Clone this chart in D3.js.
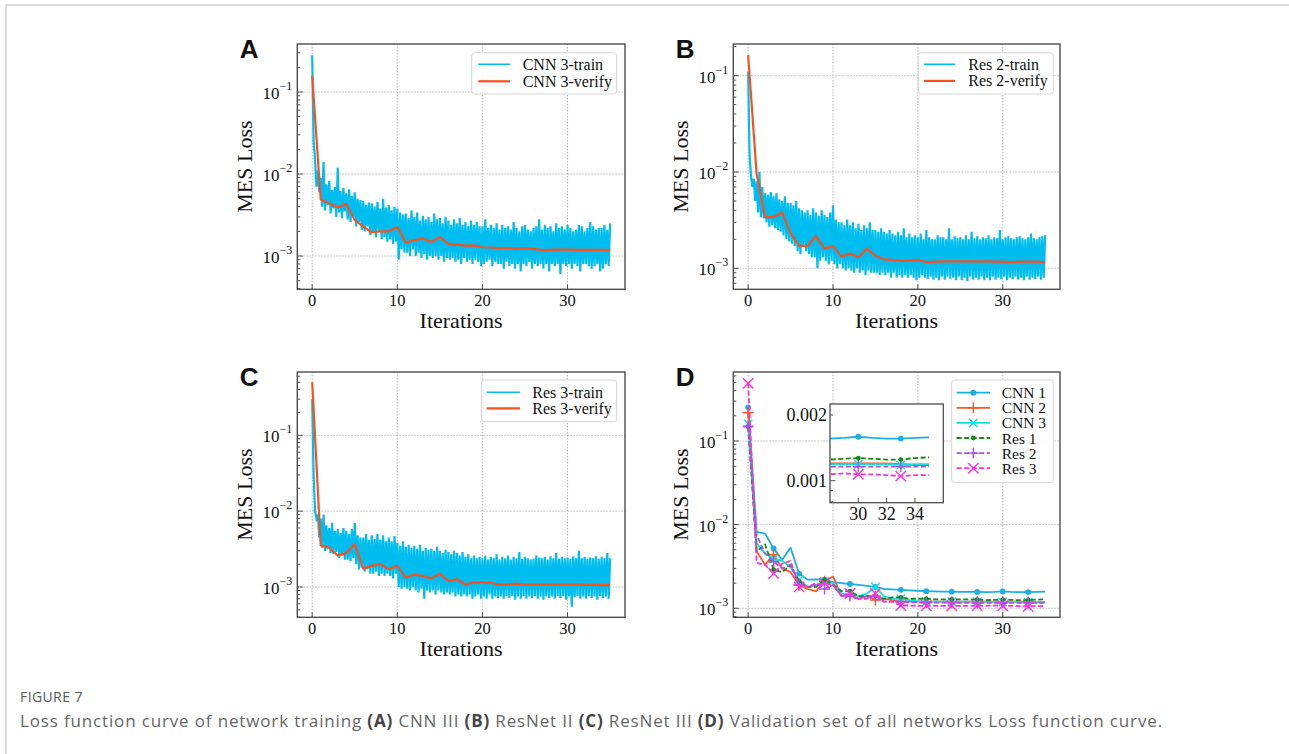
<!DOCTYPE html>
<html>
<head>
<meta charset="utf-8">
<script src="https://cdn.jsdelivr.net/npm/d3@7"></script>
<style>
    body { margin: 0; background: #fff; }
    svg text { font-family: "Liberation Serif", "Times New Roman", serif; }
</style>
</head>
<body>
<svg id="fig" width="1289" height="754"></svg>
<script>
"use strict";

// ---------------- data ----------------
const epochs = d3.range(0, 36);
const xTicks = [0, 10, 20, 30];
const insetXTicks = [30, 32, 34];
const trainStepsPerEpoch = 6;
const trainUnit = 1e-5; // training arrays are written in units of 1e-5

// (A) CNN 3 training loss, 6 samples per epoch
const cnn3Train = [
    28000, 2500, 1500, 700, 1100, 600,
    900, 400, 1400, 360, 750, 420,
    820, 330, 640, 380, 700, 300,
    1200, 340, 620, 290, 680, 350,
    580, 280, 650, 260, 540, 300,
    600, 230, 500, 260, 480, 210,
    470, 200, 420, 230, 450, 180,
    440, 190, 400, 170, 460, 200,
    380, 160, 500, 170, 390, 150,
    420, 160, 360, 140, 400, 150,
    380, 90, 340, 120, 320, 110,
    330, 110, 290, 100, 360, 120,
    300, 100, 340, 110, 270, 95,
    310, 105, 280, 90, 300, 100,
    260, 95, 330, 100, 280, 90,
    290, 100, 250, 85, 300, 95,
    270, 90, 240, 95, 280, 85,
    250, 90, 290, 80, 240, 95,
    260, 85, 230, 90, 270, 80,
    240, 90, 260, 85, 230, 75,
    230, 80, 280, 85, 220, 90,
    240, 75, 220, 85, 250, 80,
    210, 80, 240, 70, 220, 85,
    230, 75, 210, 80, 260, 70,
    220, 80, 200, 65, 230, 80,
    240, 75, 210, 85, 200, 70,
    220, 80, 230, 75, 280, 80,
    210, 70, 240, 80, 220, 65,
    230, 80, 200, 75, 250, 80,
    220, 60, 230, 80, 210, 75,
    240, 80, 220, 70, 200, 80,
    210, 75, 240, 65, 230, 80,
    200, 80, 220, 75, 260, 70,
    230, 75, 210, 80, 220, 65,
    220, 70, 240, 80, 210, 75,
    250
];
const cnn3Verify = [0.157, 0.0049, 0.0044, 0.0039, 0.0043, 0.00275, 0.00228, 0.00195, 0.002, 0.002,
    0.00224, 0.00147, 0.00155, 0.00164, 0.00148, 0.0017, 0.00141, 0.00138, 0.00134, 0.00135,
    0.00128, 0.00127, 0.00125, 0.00126, 0.00122, 0.00125, 0.00122, 0.00118, 0.00119, 0.0012,
    0.0012, 0.00119, 0.00119, 0.00119, 0.00119, 0.00118];

// (B) Res 2
const res2Train = [
    11000, 1500, 900, 700, 850, 500,
    800, 380, 1000, 340, 700, 330,
    600, 300, 580, 270, 620, 280,
    560, 260, 600, 250, 520, 240,
    500, 220, 560, 200, 480, 190,
    480, 180, 450, 170, 500, 150,
    420, 140, 400, 170, 380, 150,
    400, 140, 360, 130, 420, 130,
    380, 100, 350, 120, 400, 130,
    360, 120, 340, 110, 380, 120,
    450, 110, 320, 100, 300, 110,
    300, 100, 280, 95, 320, 100,
    280, 95, 300, 90, 260, 100,
    290, 90, 250, 95, 280, 85,
    260, 95, 300, 90, 250, 90,
    250, 90, 240, 85, 260, 90,
    240, 85, 230, 90, 250, 80,
    230, 90, 220, 80, 240, 85,
    220, 80, 260, 85, 210, 80,
    230, 85, 210, 80, 220, 75,
    210, 80, 230, 85, 200, 80,
    250, 78, 210, 82, 200, 76,
    200, 80, 220, 75, 210, 82,
    210, 76, 200, 82, 260, 78,
    200, 80, 215, 75, 205, 82,
    210, 75, 200, 80, 220, 74,
    200, 82, 240, 76, 205, 80,
    215, 76, 200, 82, 210, 75,
    205, 80, 220, 75, 200, 82,
    210, 76, 205, 80, 250, 77,
    200, 82, 210, 75, 215, 80,
    205, 77, 200, 82, 210, 76,
    215, 80, 205, 75, 200, 82,
    210, 76, 230, 80, 205, 77,
    200, 82, 210, 76, 215, 80,
    220
];
const res2Verify = [0.164, 0.0095, 0.0034, 0.0034, 0.0038, 0.0023, 0.00172, 0.0017, 0.00215, 0.0016,
    0.0017, 0.00132, 0.00142, 0.0013, 0.0016, 0.00135, 0.00124, 0.00122, 0.00119, 0.0012,
    0.00122, 0.00116, 0.00117, 0.00118, 0.00118, 0.00118, 0.00118, 0.00118, 0.00118, 0.00117,
    0.00117, 0.00116, 0.00117, 0.00117, 0.00117, 0.00115];

// (C) Res 3
const res3Train = [
    30000, 3000, 1000, 800, 900, 450,
    800, 330, 900, 300, 650, 320,
    600, 280, 700, 270, 550, 290,
    580, 240, 520, 260, 600, 230,
    550, 230, 500, 220, 580, 240,
    700, 200, 480, 170, 450, 180,
    450, 160, 500, 170, 420, 150,
    480, 150, 430, 160, 500, 140,
    420, 150, 480, 140, 400, 150,
    450, 140, 400, 130, 470, 150,
    380, 100, 350, 95, 400, 100,
    340, 95, 360, 90, 330, 100,
    350, 90, 320, 85, 360, 95,
    300, 70, 330, 90, 310, 85,
    320, 90, 300, 80, 340, 90,
    300, 85, 280, 80, 310, 85,
    290, 80, 270, 85, 300, 75,
    280, 80, 260, 75, 290, 80,
    250, 75, 270, 80, 240, 70,
    260, 75, 240, 80, 250, 70,
    240, 75, 260, 70, 230, 80,
    250, 70, 240, 75, 270, 72,
    230, 75, 250, 70, 240, 76,
    260, 72, 230, 76, 250, 68,
    240, 75, 290, 70, 235, 76,
    250, 70, 240, 75, 230, 72,
    235, 76, 260, 70, 245, 75,
    240, 68, 250, 75, 230, 72,
    255, 75, 240, 70, 280, 76,
    235, 72, 250, 76, 240, 68,
    245, 75, 235, 55, 255, 74,
    240, 76, 300, 70, 240, 75,
    250, 70, 235, 76, 245, 72,
    240, 75, 255, 68, 235, 76,
    250, 72, 240, 75, 280, 70,
    240
];
const res3Verify = [0.5, 0.00356, 0.0033, 0.0026, 0.0028, 0.0037, 0.00175, 0.0019, 0.002, 0.00172,
    0.0019, 0.00133, 0.00146, 0.0014, 0.0013, 0.0015, 0.0012, 0.00127, 0.00108, 0.00115,
    0.00115, 0.00113, 0.00108, 0.00108, 0.00111, 0.00108, 0.00108, 0.00108, 0.00108, 0.00108,
    0.00108, 0.00108, 0.00107, 0.00107, 0.00106, 0.00106];

// (D) validation loss of all networks
const dNames = ['CNN 1', 'CNN 2', 'CNN 3', 'Res 1', 'Res 2', 'Res 3'];
const cnn1Valid = [0.252, 0.0082, 0.0078, 0.0052, 0.0038, 0.0053, 0.0026, 0.0022, 0.00222, 0.0022,
    0.00205, 0.002, 0.00195, 0.0019, 0.00185, 0.0018, 0.0017, 0.00168, 0.00166, 0.00164,
    0.00162, 0.0016, 0.00159, 0.00158, 0.00158, 0.00157, 0.00157, 0.00157, 0.00156, 0.00157,
    0.00159, 0.00157, 0.00156, 0.00156, 0.00157, 0.00158];
const cnn2Valid = [0.218, 0.0048, 0.0033, 0.0044, 0.003, 0.0027, 0.0019, 0.0017, 0.0016, 0.0021,
    0.0024, 0.0014, 0.00145, 0.0013, 0.0014, 0.00125, 0.0013, 0.00125, 0.0012, 0.0012,
    0.0012, 0.0012, 0.0012, 0.0012, 0.0012, 0.0012, 0.0012, 0.0012, 0.0012, 0.0012,
    0.0012, 0.0012, 0.0012, 0.00119, 0.00118, 0.00118];
const cnn3Valid = [0.16, 0.006, 0.0045, 0.0039, 0.0037, 0.0031, 0.0022, 0.0018, 0.0019, 0.0021,
    0.002, 0.0015, 0.0015, 0.0014, 0.0015, 0.0018, 0.0014, 0.0013, 0.0013, 0.00125,
    0.00122, 0.0012, 0.0012, 0.0012, 0.0012, 0.0012, 0.0012, 0.0012, 0.00119, 0.00119,
    0.00119, 0.00119, 0.00119, 0.00118, 0.00119, 0.00119];
const res1Valid = [0.148, 0.0048, 0.0058, 0.0029, 0.0027, 0.0033, 0.0021, 0.0018, 0.0018, 0.0022,
    0.0019, 0.0016, 0.0016, 0.0014, 0.0014, 0.0014, 0.0013, 0.00135, 0.00135, 0.0013,
    0.0013, 0.0013, 0.00128, 0.00128, 0.00128, 0.00128, 0.00128, 0.00127, 0.00125, 0.00126,
    0.00127, 0.00126, 0.00125, 0.00125, 0.00127, 0.00128];
const res2Valid = [0.15, 0.0075, 0.0045, 0.0036, 0.003, 0.0033, 0.0019, 0.0018, 0.002, 0.0017,
    0.0019, 0.0014, 0.0014, 0.0013, 0.0014, 0.0014, 0.0012, 0.0012, 0.0012, 0.00118,
    0.00118, 0.00117, 0.00117, 0.00117, 0.00116, 0.00116, 0.00116, 0.00116, 0.00116, 0.00116,
    0.00116, 0.00116, 0.00116, 0.00116, 0.00116, 0.00116];
const res3Valid = [0.489, 0.0035, 0.0033, 0.0026, 0.0034, 0.0037, 0.0018, 0.0018, 0.0019, 0.002,
    0.0019, 0.0014, 0.0015, 0.0013, 0.0013, 0.0015, 0.0012, 0.0012, 0.00108, 0.00108,
    0.00107, 0.00107, 0.00107, 0.00107, 0.00107, 0.00107, 0.00107, 0.00107, 0.00107, 0.00108,
    0.00107, 0.00107, 0.00106, 0.00105, 0.00106, 0.00106];

// ---------------- layout / styles ----------------
const TRAIN_COLOR = '#00bdf0';
const VERIFY_COLOR = '#f9501e';
const FRAME_COLOR = '#4d4d4d';

const panels = [
    { letter: 'A', left: 297.3, top: 44, right: 625, bottom: 289.3, yDomain: [0.000393, 0.385],
      train: cnn3Train, verify: cnn3Verify, names: ['CNN 3-train', 'CNN 3-verify'],
      legend: { x: 471.7, y: 52.7, w: 145, h: 41.3, rows: [64.3, 81.3], h1: 478.3, h2: 510, tx: 522.7 } },
    { letter: 'B', left: 733.3, top: 44, right: 1060, bottom: 289.3, yDomain: [0.000605, 0.2134],
      train: res2Train, verify: res2Verify, names: ['Res 2-train', 'Res 2-verify'],
      legend: { x: 918.3, y: 52.7, w: 135, h: 41.3, rows: [64.3, 80.9], h1: 924, h2: 955, tx: 968.3 } },
    { letter: 'C', left: 297.3, top: 372, right: 625, bottom: 617.3, yDomain: [0.000399, 0.6833],
      train: res3Train, verify: res3Verify, names: ['Res 3-train', 'Res 3-verify'],
      legend: { x: 481.7, y: 380, w: 135, h: 41.7, rows: [392.3, 408.3], h1: 486.7, h2: 520, tx: 532.3 } }
];

const panelD = { letter: 'D', left: 733.3, top: 372, right: 1060, bottom: 617.3, yDomain: [0.00078, 0.668] };

const dSeries = [
    { name: dNames[0], values: cnn1Valid, color: '#17afe6', dash: null, marker: 'o', size: 2.9 },
    { name: dNames[1], values: cnn2Valid, color: '#ff5722', dash: null, marker: '+', size: 5.5 },
    { name: dNames[2], values: cnn3Valid, color: '#12e0e0', dash: null, marker: 'x', size: 4.2 },
    { name: dNames[3], values: res1Valid, color: '#168a16', dash: '5,2.5', marker: '.', size: 2.4 },
    { name: dNames[4], values: res2Valid, color: '#a552f0', dash: '5,2.5', marker: '+', size: 5.5 },
    { name: dNames[5], values: res3Valid, color: '#ff30dc', dash: '5,2.5', marker: 'x', size: 5.2 }
];

const svg = d3.select('#fig');

/**
 * Builds a log-scaled axes box with grid, ticks and labels
 *
 * @param {d3.Selection} root
 * @param {Object} cfg panel config
 *
 * @returns {Object} {plot, over, x, y}
 */
const makeAxes = (root, cfg) => {
    const x = d3.scaleLinear().domain([-1.75, 36.75]).range([cfg.left, cfg.right]);
    const y = d3.scaleLog().domain(cfg.yDomain).range([cfg.bottom, cfg.top]);
    const g = root.append('g');
    const clipId = 'clip' + cfg.letter;
    g.append('clipPath').attr('id', clipId)
        .append('rect')
        .attr('x', cfg.left).attr('y', cfg.top)
        .attr('width', cfg.right - cfg.left).attr('height', cfg.bottom - cfg.top);

    const decades = [-3, -2, -1].filter(e => Math.pow(10, e) >= cfg.yDomain[0] && Math.pow(10, e) <= cfg.yDomain[1]);

    // Grid
    const grid = g.append('g')
        .attr('stroke', '#a8a8a8')
        .attr('stroke-width', 0.8)
        .attr('stroke-dasharray', '1.5,1.5');
    xTicks.forEach(t => grid.append('line')
        .attr('x1', x(t)).attr('x2', x(t)).attr('y1', cfg.top).attr('y2', cfg.bottom));
    decades.forEach(e => grid.append('line')
        .attr('x1', cfg.left).attr('x2', cfg.right).attr('y1', y(Math.pow(10, e))).attr('y2', y(Math.pow(10, e))));

    const plot = g.append('g').attr('clip-path', `url(#${clipId})`);
    const over = g.append('g');

    // Ticks (inward)
    const ticks = over.append('g').attr('stroke', FRAME_COLOR).attr('stroke-width', 1);
    xTicks.forEach(t => ticks.append('line')
        .attr('x1', x(t)).attr('x2', x(t)).attr('y1', cfg.bottom).attr('y2', cfg.bottom - 5));
    for (let e = -4; e <= 0; e++) {
        for (let k = 1; k <= 9; k++) {
            const v = k * Math.pow(10, e);
            if (v < cfg.yDomain[0] || v > cfg.yDomain[1]) continue;
            ticks.append('line')
                .attr('x1', cfg.left).attr('x2', cfg.left + (k === 1 ? 5.5 : 3))
                .attr('y1', y(v)).attr('y2', y(v));
        }
    }

    // Frame
    over.append('rect')
        .attr('x', cfg.left).attr('y', cfg.top)
        .attr('width', cfg.right - cfg.left).attr('height', cfg.bottom - cfg.top)
        .attr('fill', 'none').attr('stroke', FRAME_COLOR).attr('stroke-width', 1.4);

    // Tick labels
    xTicks.forEach(t => g.append('text')
        .attr('x', x(t)).attr('y', cfg.bottom + 17)
        .attr('text-anchor', 'middle')
        .style('font-size', '16.5px')
        .attr('fill', '#111')
        .text(t));
    decades.forEach(e => {
        const t = g.append('text')
            .attr('x', cfg.left - 5).attr('y', y(Math.pow(10, e)) + 7)
            .attr('text-anchor', 'end')
            .attr('fill', '#111')
            .style('font-size', '17px');
        t.append('tspan').text('10');
        t.append('tspan').attr('dy', -9).style('font-size', '12px').text('\u2212' + Math.abs(e));
    });

    // Axis titles
    g.append('text')
        .attr('transform', `translate(${cfg.left - 45.5},${(cfg.top + cfg.bottom) / 2}) rotate(-90)`)
        .attr('text-anchor', 'middle')
        .attr('fill', '#111')
        .style('font-size', '22px')
        .text('MES Loss');
    g.append('text')
        .attr('x', (cfg.left + cfg.right) / 2).attr('y', cfg.bottom + 39)
        .attr('text-anchor', 'middle')
        .attr('fill', '#111')
        .style('font-size', '22px')
        .text('Iterations');

    // Panel letter
    root.append('text')
        .attr('x', cfg.left - 57.5).attr('y', cfg.top + 14)
        .style('font-family', '"Liberation Sans", Arial, sans-serif')
        .style('font-weight', 'bold')
        .style('font-size', '26px')
        .attr('fill', '#111')
        .text(cfg.letter);

    return { plot, over, x, y };
};

/**
 * Draws a marker glyph
 */
const drawMarker = (g, type, cx, cy, size, color) => {
    if (type === 'o' || type === '.') {
        g.append('circle').attr('cx', cx).attr('cy', cy).attr('r', size).attr('fill', color);
    } else if (type === '+') {
        g.append('path')
            .attr('d', `M${cx - size},${cy}H${cx + size}M${cx},${cy - size}V${cy + size}`)
            .attr('stroke', color).attr('stroke-width', 1.4).attr('fill', 'none');
    } else {
        g.append('path')
            .attr('d', `M${cx - size},${cy - size}L${cx + size},${cy + size}M${cx - size},${cy + size}L${cx + size},${cy - size}`)
            .attr('stroke', color).attr('stroke-width', 1.4).attr('fill', 'none');
    }
};

/**
 * Draws a legend box
 */
const drawLegendBox = (lg) => {
    svg.append('rect')
        .attr('x', lg.x).attr('y', lg.y).attr('width', lg.w).attr('height', lg.h)
        .attr('rx', 3)
        .attr('fill', '#fff').attr('fill-opacity', 0.85)
        .attr('stroke', '#d5d5d5').attr('stroke-width', 1);
};

// ---------------- panels A, B, C ----------------
panels.forEach(cfg => {
    const ax = makeAxes(svg, cfg);
    const line = d3.line().x(d => ax.x(d[0])).y(d => ax.y(d[1]));
    const trainPts = cfg.train.map((v, i) => [i / trainStepsPerEpoch, v * trainUnit]);
    const verifyPts = cfg.verify.map((v, i) => [epochs[i], v]);

    ax.plot.append('path')
        .attr('d', line(trainPts))
        .attr('fill', 'none').attr('stroke', TRAIN_COLOR).attr('stroke-width', 2.2)
        .attr('stroke-linejoin', 'miter');
    ax.plot.append('path')
        .attr('d', line(verifyPts))
        .attr('fill', 'none').attr('stroke', VERIFY_COLOR).attr('stroke-width', 2.2)
        .attr('stroke-linejoin', 'round');

    const lg = cfg.legend;
    drawLegendBox(lg);
    [TRAIN_COLOR, VERIFY_COLOR].forEach((c, i) => {
        svg.append('line')
            .attr('x1', lg.h1).attr('x2', lg.h2).attr('y1', lg.rows[i]).attr('y2', lg.rows[i])
            .attr('stroke', c).attr('stroke-width', i === 0 ? 1.6 : 2.2);
        svg.append('text')
            .attr('x', lg.tx).attr('y', lg.rows[i] + 5.5)
            .attr('fill', '#111')
            .style('font-size', '16px')
            .text(cfg.names[i]);
    });
});

// ---------------- panel D ----------------
const axD = makeAxes(svg, panelD);
const lineD = d3.line().x(d => axD.x(d[0])).y(d => axD.y(d[1]));

/**
 * Draws the six validation series into a group with given scales
 */
const drawSeries = (g, xs, ys, line, xMin) => {
    dSeries.forEach(s => {
        const pts = s.values.map((v, i) => [epochs[i], v]).filter(p => p[0] >= xMin);
        g.append('path')
            .attr('d', line(pts))
            .attr('fill', 'none').attr('stroke', s.color).attr('stroke-width', 1.8)
            .attr('stroke-dasharray', s.dash)
            .attr('stroke-linejoin', 'round');
        pts.filter(p => p[0] % 3 === 0)
            .forEach(p => drawMarker(g, s.marker, xs(p[0]), ys(p[1]), s.size, s.color));
    });
};
drawSeries(axD.plot, axD.x, axD.y, lineD, 0);

// Inset
const inset = { left: 830, top: 404, right: 943.3, bottom: 502.7, xDomain: [28, 36], yDomain: [0.000793, 0.002246] };
const ix = d3.scaleLinear().domain(inset.xDomain).range([inset.left, inset.right]);
const iy = d3.scaleLog().domain(inset.yDomain).range([inset.bottom, inset.top]);
const insetG = svg.append('g');
insetG.append('rect')
    .attr('x', inset.left).attr('y', inset.top)
    .attr('width', inset.right - inset.left).attr('height', inset.bottom - inset.top)
    .attr('fill', '#fff');
insetG.append('clipPath').attr('id', 'clipInset')
    .append('rect')
    .attr('x', inset.left).attr('y', inset.top)
    .attr('width', inset.right - inset.left).attr('height', inset.bottom - inset.top);
const insetPlot = insetG.append('g').attr('clip-path', 'url(#clipInset)');
const lineInset = d3.line().x(d => ix(d[0])).y(d => iy(d[1]));
drawSeries(insetPlot, ix, iy, lineInset, 27);

const insetTicks = insetG.append('g').attr('stroke', FRAME_COLOR).attr('stroke-width', 1);
insetXTicks.forEach(t => insetTicks.append('line')
    .attr('x1', ix(t)).attr('x2', ix(t)).attr('y1', inset.bottom).attr('y2', inset.bottom - 5));
[0.0008, 0.0009, 0.001, 0.002].forEach(v => insetTicks.append('line')
    .attr('x1', inset.left).attr('x2', inset.left + (v === 0.001 ? 5.5 : 3))
    .attr('y1', iy(v)).attr('y2', iy(v)));
insetG.append('rect')
    .attr('x', inset.left).attr('y', inset.top)
    .attr('width', inset.right - inset.left).attr('height', inset.bottom - inset.top)
    .attr('fill', 'none').attr('stroke', FRAME_COLOR).attr('stroke-width', 1.3);
insetXTicks.forEach(t => insetG.append('text')
    .attr('x', ix(t)).attr('y', inset.bottom + 17.5)
    .attr('text-anchor', 'middle')
    .attr('fill', '#111')
    .style('font-size', '18px')
    .text(t));
[0.001, 0.002].forEach(v => insetG.append('text')
    .attr('x', inset.left - 3).attr('y', iy(v) + 6)
    .attr('text-anchor', 'end')
    .attr('fill', '#111')
    .style('font-size', '18px')
    .text(v.toFixed(3)));

// Legend D
const lgD = { x: 951.7, y: 380, w: 101.6, h: 102.7, row0: 392.7, step: 15.1, h1: 956.7, h2: 990, tx: 1001.7 };
drawLegendBox(lgD);
dSeries.forEach((s, i) => {
    const ry = lgD.row0 + i * lgD.step;
    svg.append('line')
        .attr('x1', lgD.h1).attr('x2', lgD.h2).attr('y1', ry).attr('y2', ry)
        .attr('stroke', s.color).attr('stroke-width', 1.8)
        .attr('stroke-dasharray', s.dash);
    drawMarker(svg, s.marker, (lgD.h1 + lgD.h2) / 2, ry, s.size, s.color);
    svg.append('text')
        .attr('x', lgD.tx).attr('y', ry + 5.5)
        .attr('fill', '#111')
        .style('font-size', '15.5px')
        .text(s.name);
});

// ---------------- frame & caption ----------------
svg.append('path')
    .attr('d', 'M6,754V5H1289')
    .attr('fill', 'none').attr('stroke', '#cfcfcf').attr('stroke-width', 1.5);

const SANS = '"Open Sans", "Noto Sans", sans-serif';
svg.append('text')
    .attr('x', 20).attr('y', 702)
    .style('font-family', SANS)
    .style('font-size', '14px')
    .style('letter-spacing', '0.4px')
    .attr('fill', '#5a5a5a')
    .text('FIGURE 7');

const captionParts = [
    ['Loss function curve of network training ', false], ['(A)', true], [' CNN III ', false],
    ['(B)', true], [' ResNet II ', false], ['(C)', true], [' ResNet III ', false],
    ['(D)', true], [' Validation set of all networks Loss function curve.', false]
];
const caption = svg.append('text')
    .attr('x', 20).attr('y', 727)
    .style('font-family', SANS)
    .style('font-size', '17px')
    .attr('fill', '#666');
captionParts.forEach(p => caption.append('tspan')
    .style('font-weight', p[1] ? 'bold' : 'normal')
    .attr('fill', p[1] ? '#444' : '#666')
    .text(p[0]));
// stretch letter spacing so the caption spans the same width as the reference
const capChars = captionParts.map(p => p[0]).join('').length;
const capLen = caption.node().getComputedTextLength();
caption.style('letter-spacing', ((1143 - capLen) / capChars).toFixed(3) + 'px');
</script>
</body>
</html>
